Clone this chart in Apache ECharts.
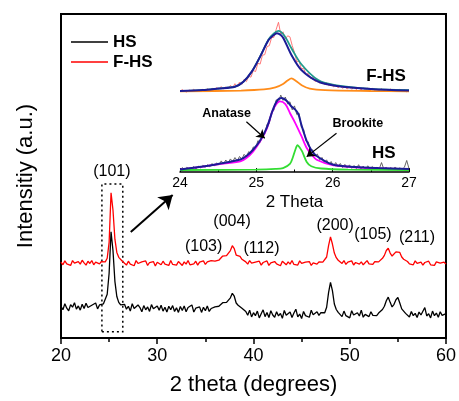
<!DOCTYPE html>
<html>
<head>
<meta charset="utf-8">
<script src="https://cdn.jsdelivr.net/npm/echarts@6/dist/echarts.min.js"></script>
<style>
html, body { margin: 0; padding: 0; background: #fff; }
#chart { width: 459px; height: 401px; }
</style>
</head>
<body>
<div id="chart"></div>
<script>
// XRD patterns, 20-60 deg, one point every 0.2 deg
var mainStart = 20, mainStep = 0.2;
var fhsMain = [
	23.4, 22.6, 23.8, 22.9, 23.5, 22.4, 23.9, 23.1, 22.7, 23.6, 22.8, 24.0, 23.2, 22.5, 23.7, 23.0, 23.9, 22.6, 23.4, 23.8, 22.9, 23.6, 24.1,
	23.5, 24.6, 29.5, 44.8, 39.5, 30.5, 26.4, 24.9, 24.3, 23.6,
	23.2, 22.5, 23.7, 22.8, 23.4, 22.3, 23.9, 23.0, 22.6, 23.5,
	22.9, 23.8, 22.4, 23.3, 22.7, 23.6, 22.2, 23.4, 23.0, 22.6,
	23.7, 22.8, 23.2, 22.4, 23.9, 22.7, 23.3, 22.5, 23.6, 23.0,
	22.4, 23.5, 22.8, 23.9, 22.6, 23.2, 22.9, 23.7, 22.5, 23.4,
	23.0, 23.8, 22.7, 23.5, 23.1, 23.9, 23.3, 23.7,
	23.6, 24.0, 24.5, 25.3, 25.0, 25.4, 25.9, 27.0, 28.5, 27.6, 25.6, 25.3, 25.2, 24.3, 23.8,
	23.5, 22.8, 23.9, 23.1, 22.6, 23.4, 22.9, 23.7, 22.5, 23.3,
	23.0, 23.8, 22.4, 23.2, 22.7, 23.6, 22.9, 23.4, 22.3, 23.7,
	23.1, 22.6, 23.5, 22.8, 23.9, 22.7, 23.3, 22.5, 23.8, 23.0,
	22.6, 23.4, 22.9, 23.6, 22.4, 23.2, 23.7, 22.8, 23.5, 23.1, 23.4,
	23.8, 25.0, 28.5, 31.2, 29.0, 26.2, 24.8, 24.0,
	23.6, 23.0, 23.9, 22.7, 23.4, 22.9, 23.8, 22.5, 23.3, 23.7,
	22.8, 23.5, 22.6, 23.2, 23.9, 22.9, 23.4, 22.7, 23.6, 23.1, 23.5,
	23.8, 24.6, 25.5, 27.0, 27.7, 26.2, 25.3, 25.6, 26.6, 27.1, 26.4, 25.0, 24.3, 23.9,
	23.6, 22.9, 23.5, 22.6, 23.8, 23.0, 22.7, 23.4, 22.5, 23.3,
	22.8, 23.7, 22.6, 23.2, 22.4, 23.5, 22.9, 23.1, 22.5, 23.4, 22.8
];
var hsMain = [
	9.8, 8.7, 10.6, 9.2, 8.4, 10.3, 9.5, 10.9, 8.9, 9.9, 8.6, 10.4, 9.1, 10.7, 9.4, 8.8, 10.1, 9.6, 10.8, 9.0, 10.2, 9.7, 10.5,
	11.0, 13.5, 20.0, 32.8, 27.0, 17.5, 12.8, 11.0, 10.2, 9.8,
	10.4, 8.9, 9.8, 8.3, 10.6, 9.1, 8.5, 10.2, 9.4, 8.1,
	10.0, 8.7, 9.6, 8.2, 10.3, 9.0, 8.4, 9.9, 8.6, 10.1,
	8.3, 9.5, 8.0, 9.8, 8.7, 10.0, 8.2, 9.3, 7.9, 9.7,
	8.5, 9.9, 8.1, 9.4, 8.8, 10.2, 8.0, 9.2, 8.6, 9.6,
	7.9, 9.5, 8.4, 9.9, 8.2, 9.1, 8.7, 9.6,
	9.0, 9.8, 10.2, 10.9, 10.4, 11.0, 11.6, 12.4, 13.8, 12.9, 10.8, 10.1, 10.3, 9.2, 8.6,
	8.2, 7.0, 8.6, 6.5, 7.8, 6.9, 8.3, 6.2, 7.5, 8.7,
	6.6, 7.9, 6.3, 8.4, 7.1, 6.4, 8.1, 6.8, 7.6, 6.1,
	8.5, 7.0, 6.6, 8.0, 6.3, 7.7, 8.9, 6.5, 7.4, 6.0,
	8.2, 6.9, 7.5, 6.4, 8.6, 7.2, 6.7, 8.1, 7.0, 7.8, 7.4,
	7.8, 9.5, 14.0, 17.2, 14.6, 10.5, 8.8, 7.9,
	7.9, 6.6, 8.3, 6.9, 7.5, 6.2, 8.4, 7.1, 6.5, 7.8,
	6.8, 8.6, 6.4, 7.3, 7.9, 6.6, 8.1, 7.0, 7.6, 6.9, 7.7,
	7.9, 8.8, 9.8, 11.5, 12.6, 11.0, 9.6, 10.4, 11.8, 12.5, 10.8, 9.0, 8.3, 7.6,
	7.4, 6.5, 8.2, 6.9, 7.6, 6.3, 8.0, 7.1, 6.6, 9.4,
	6.8, 7.5, 6.2, 8.3, 6.9, 7.7, 6.4, 8.1, 7.0, 6.7, 7.5
];

// peak labels (2theta, height)
var peakNames = ['(101)', '(004)', '(103)', '(112)', '(200)', '(105)', '(211)'];
var peakPos = [[25.29, 51.5], [37.77, 35.9], [34.82, 28.1], [40.83, 27.5], [48.48, 34.8], [52.41, 31.8], [56.99, 30.9]];

// inset: measured data 24-27 deg, one point every 0.03 deg
var insetStart = 24, insetStep = 0.03;
var fhsInset = [
	53.0, 54.2, 53.1, 52.6, 53.9, 53.2, 54.4, 53.0, 53.8, 52.9,
	54.5, 53.6, 54.8, 53.7, 55.2, 54.1, 55.5, 54.3, 56.2, 54.6,
	55.9, 54.8, 56.9, 55.7, 58.1, 56.4, 59.2, 57.6, 61.0, 59.5,
	62.9, 62.4, 66.8, 66.1, 71.5, 71.0, 76.8, 77.2, 82.5, 83.1,
	88.4, 88.6, 93.8, 98.5, 90.6, 92.2, 87.4, 89.6, 88.9, 83.2,
	78.6, 72.4, 72.9, 67.8, 68.3, 64.0, 64.9, 61.6, 62.7, 59.5,
	60.9, 58.4, 59.8, 57.6, 58.9, 56.8, 58.1, 56.0, 57.3, 55.4,
	56.8, 55.0, 56.3, 54.6, 56.0, 54.4, 55.9, 54.2, 55.6, 53.9,
	55.3, 54.0, 55.2, 53.8, 55.0, 53.6, 54.7, 53.5, 54.9, 53.4,
	54.3, 53.2, 54.6, 53.3, 54.1, 53.0, 54.4, 53.1, 53.9, 52.8,
	54.0
];
var hsInset = [
	1.2, 2.9, 1.5, 3.1, 1.8, 2.4, 3.6, 2.0, 3.9, 2.6,
	4.4, 3.0, 4.8, 3.4, 5.6, 3.9, 6.0, 4.6, 7.3, 5.2,
	7.9, 5.8, 8.6, 6.9, 9.5, 7.4, 10.2, 8.4, 11.6, 10.0,
	13.4, 12.1, 16.5, 15.4, 20.6, 19.5, 25.3, 24.8, 31.4, 31.9,
	39.8, 40.6, 47.5, 46.0, 50.6, 47.1, 49.3, 44.8, 46.2, 40.9,
	43.5, 37.8, 38.6, 29.4, 28.0, 20.3, 19.9, 14.1, 14.6, 10.4,
	11.8, 8.1, 9.6, 6.2, 8.0, 5.1, 6.9, 3.9, 6.2, 3.5,
	5.6, 2.9, 5.0, 2.6, 4.7, 2.4, 4.3, 2.2, 4.8, 2.0,
	3.9, 1.8, 4.1, 2.1, 3.6, 1.7, 3.2, 2.0, 6.2, 1.9,
	3.0, 1.6, 2.9, 1.8, 3.3, 1.5, 2.7, 1.7, 3.1, 7.6,
	2.2
];

// inset fits
var fhsFit = [[24.0, 53.3], [24.3, 53.9], [24.5, 54.9], [24.72, 56.1], [24.83, 59.4], [24.94, 66.0], [25.05, 75.9], [25.16, 86.8], [25.22, 89.8], [25.27, 91.3], [25.32, 90.1], [25.36, 87.5], [25.46, 77.0], [25.59, 67.1], [25.81, 59.4], [26.03, 56.8], [26.5, 54.6], [27.0, 53.6]];
var fhsSum = [[24.0, 53.3], [24.3, 53.9], [24.5, 54.9], [24.72, 56.1], [24.83, 59.4], [24.94, 66.0], [25.05, 76.0], [25.16, 87.2], [25.23, 91.2], [25.29, 92.8], [25.37, 89.5], [25.46, 81.4], [25.59, 70.9], [25.81, 60.5], [26.03, 57.2], [26.5, 54.7], [27.0, 53.8]];
var fhsBrookite = [[24.0, 53.0], [24.8, 53.6], [25.1, 54.3], [25.25, 55.6], [25.35, 57.9], [25.41, 60.2], [25.46, 61.6], [25.52, 59.9], [25.6, 56.9], [25.7, 54.9], [25.9, 53.9], [26.5, 53.3], [27.0, 53.0]];
var hsSum = [[24.0, 1.6], [24.3, 3.6], [24.5, 5.3], [24.79, 8.2], [24.87, 10.5], [24.96, 14.8], [25.05, 20.7], [25.14, 29.6], [25.22, 41.4], [25.28, 47.4], [25.33, 48.7], [25.4, 46.7], [25.46, 43.1], [25.51, 41.0], [25.55, 38.2], [25.59, 31.1], [25.66, 20.4], [25.72, 14.5], [25.79, 10.5], [26.0, 4.9], [26.3, 3.3], [26.6, 2.6], [27.0, 2.0]];
var hsAnatase = [[24.0, 1.6], [24.3, 3.6], [24.5, 5.1], [24.79, 7.0], [24.87, 9.2], [24.96, 13.6], [25.05, 20.2], [25.14, 28.9], [25.22, 41.0], [25.31, 46.5], [25.38, 44.7], [25.44, 38.8], [25.51, 32.2], [25.59, 23.7], [25.66, 15.8], [25.72, 11.8], [25.79, 8.1], [26.0, 4.6], [26.3, 3.1], [26.6, 2.4], [27.0, 2.0]];
var hsBrookite = [[24.0, 1.3], [25.0, 1.6], [25.25, 2.0], [25.35, 2.6], [25.44, 5.3], [25.48, 9.9], [25.51, 14.5], [25.54, 17.6], [25.57, 16.0], [25.6, 13.5], [25.66, 6.6], [25.72, 3.8], [25.85, 2.3], [26.2, 1.6], [27.0, 1.3]];

var insetNames = ['F-HS', 'HS', 'Anatase', 'Brookite'];
var insetPos = [[26.70, 63.2], [26.67, 12.2], [24.61, 38.2], [26.33, 31.6]];
var insetSizes = [17, 17, 12.5, 12.5];

var font = 'Liberation Sans, Arial, sans-serif';

function toPairs(arr, start, step) {
	return arr.map(function(v, i) {
		return [+(start + i * step).toFixed(3), v];
	});
}

function labelData(names, pos, sizes) {
	return names.map(function(n, i) {
		var d = { name: n, value: pos[i] };
		if (sizes) d.label = { fontSize: sizes[i] };
		return d;
	});
}

// smooth fitted curve in the inset
function fitLine(name, data, color, width, extra) {
	var s = {
		name: name,
		type: 'line',
		xAxisIndex: 1, yAxisIndex: 1,
		data: data,
		symbol: 'none',
		smooth: 0.3,
		color: color,
		lineStyle: { width: width }
	};
	if (extra) s.markLine = extra;
	return s;
}

var chart = echarts.init(document.getElementById('chart'));

var labelBase = {
	show: true, position: 'inside', color: '#000', opacity: 1,
	textBorderWidth: 0, fontFamily: font,
	formatter: function(p) { return p.name; }
};

var option = {
	animation: false,
	textStyle: { fontFamily: font },
	legend: {
		data: ['HS', 'F-HS'],
		orient: 'vertical',
		left: 66,
		top: 28,
		icon: 'rect',
		itemWidth: 37,
		itemHeight: 1.5,
		itemGap: 2,
		textStyle: { fontSize: 17, fontWeight: 'bold', color: '#000', lineHeight: 18, fontFamily: font }
	},
	grid: [
		{ left: 61, right: 12, top: 14, bottom: 63, show: true, borderColor: '#000', borderWidth: 2 },
		{ left: 180, right: 50, top: 20, bottom: 229 }
	],
	xAxis: [{
		gridIndex: 0,
		type: 'value',
		min: 20, max: 60, interval: 10,
		name: '2 theta (degrees)',
		nameLocation: 'middle',
		nameGap: 36,
		nameTextStyle: { fontSize: 22, color: '#000', fontFamily: font },
		axisLine: { lineStyle: { color: '#000', width: 2 } },
		axisTick: { length: 6, lineStyle: { color: '#000', width: 1.5 } },
		minorTick: { show: true, splitNumber: 2, length: 4, lineStyle: { color: '#000', width: 1.5 } },
		axisLabel: { fontSize: 18, color: '#000', margin: 9, fontFamily: font },
		splitLine: { show: false }
	}, {
		gridIndex: 1,
		type: 'value',
		min: 24, max: 27, interval: 1,
		name: '2 Theta',
		nameLocation: 'middle',
		nameGap: 22,
		nameTextStyle: { fontSize: 17, color: '#000', fontFamily: font },
		axisLine: { lineStyle: { color: '#000', width: 1.5 } },
		axisTick: { inside: true, length: 4, lineStyle: { color: '#000' } },
		minorTick: { show: true, splitNumber: 2, length: 2.5, lineStyle: { color: '#000' } },
		axisLabel: { fontSize: 14, color: '#000', margin: 4, fontFamily: font },
		splitLine: { show: false }
	}],
	yAxis: [{
		gridIndex: 0,
		type: 'value',
		min: 0, max: 100,
		name: 'Intensitiy (a.u.)',
		nameLocation: 'middle',
		nameGap: 24,
		nameTextStyle: { fontSize: 22, color: '#000', fontFamily: font },
		axisLine: { show: true, lineStyle: { color: '#000', width: 2 } },
		axisTick: { show: false },
		axisLabel: { show: false },
		splitLine: { show: false }
	}, {
		gridIndex: 1,
		type: 'value',
		min: 0, max: 100,
		show: false
	}],
	series: [{
		name: 'F-HS',
		type: 'line',
		xAxisIndex: 0, yAxisIndex: 0,
		data: toPairs(fhsMain, mainStart, mainStep),
		symbol: 'none',
		color: '#ff0000',
		lineStyle: { width: 1.3 }
	}, {
		name: 'HS',
		type: 'line',
		xAxisIndex: 0, yAxisIndex: 0,
		data: toPairs(hsMain, mainStart, mainStep),
		symbol: 'none',
		color: '#000000',
		lineStyle: { width: 1.3 },
		markArea: {
			silent: true,
			itemStyle: { color: 'rgba(0,0,0,0)', borderColor: '#000', borderWidth: 1.5, borderType: [2, 3] },
			data: [[{ coord: [24.25, 1.9] }, { coord: [26.42, 47.5] }]]
		},
		markLine: {
			silent: true,
			symbol: ['none', 'arrow'],
			symbolSize: 13,
			label: { show: false },
			lineStyle: { color: '#000', width: 2, type: 'solid' },
			data: [[{ coord: [27.25, 32.7] }, { coord: [31.6, 44.1] }]]
		}
	}, {
		name: 'peaks',
		type: 'scatter',
		xAxisIndex: 0, yAxisIndex: 0,
		data: labelData(peakNames, peakPos),
		symbolSize: 0,
		silent: true,
		itemStyle: { opacity: 1 },
		label: Object.assign({}, labelBase, { fontSize: 16 })
	}, {
		name: 'F-HS data',
		type: 'line',
		xAxisIndex: 1, yAxisIndex: 1,
		data: toPairs(fhsInset, insetStart, insetStep),
		symbol: 'none',
		color: '#ff6a6a',
		lineStyle: { width: 0.9 }
	}, {
		name: 'HS data',
		type: 'line',
		xAxisIndex: 1, yAxisIndex: 1,
		data: toPairs(hsInset, insetStart, insetStep),
		symbol: 'none',
		color: '#555555',
		lineStyle: { width: 0.9 }
	},
	fitLine('F-HS sum', fhsSum, '#1f9b8c', 1.8),
	fitLine('F-HS brookite', fhsBrookite, '#ff8c1a', 1.8),
	fitLine('F-HS anatase', fhsFit, '#1c1c96', 2),
	fitLine('HS anatase', hsAnatase, '#ff00ff', 1.8, {
		silent: true,
		symbol: ['none', 'arrow'],
		symbolSize: 8,
		label: { show: false },
		lineStyle: { color: '#000', width: 1.2, type: 'solid' },
		data: [
			[{ coord: [24.87, 33.1] }, { coord: [25.11, 22.2] }],
			[{ coord: [26.05, 25.5] }, { coord: [25.66, 10.1] }]
		]
	}),
	fitLine('HS brookite', hsBrookite, '#33dd33', 1.8),
	fitLine('HS sum', hsSum, '#1c1c96', 2),
	{
		name: 'inset labels',
		type: 'scatter',
		xAxisIndex: 1, yAxisIndex: 1,
		data: labelData(insetNames, insetPos, insetSizes),
		symbolSize: 0,
		silent: true,
		itemStyle: { opacity: 1 },
		label: Object.assign({}, labelBase, { fontWeight: 'bold' })
	}]
};

chart.setOption(option);
</script>
</body>
</html>
